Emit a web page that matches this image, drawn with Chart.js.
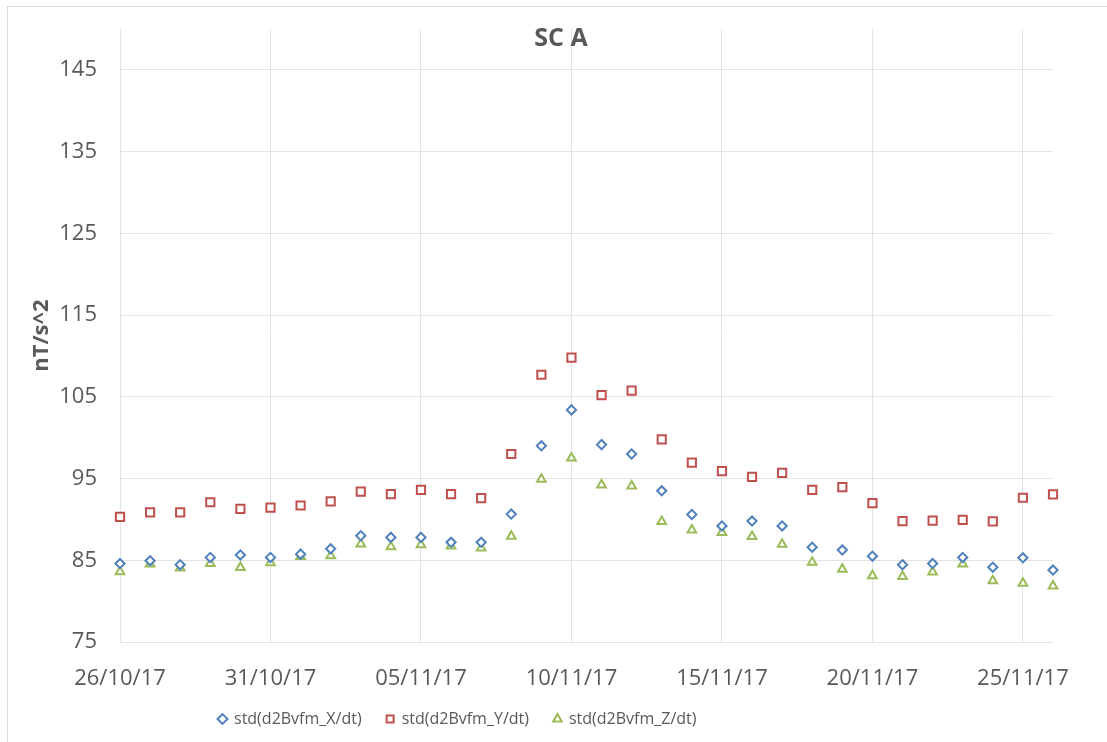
<!DOCTYPE html>
<html>
<head>
<meta charset="utf-8">
<script src="https://cdn.jsdelivr.net/npm/chart.js@4/dist/chart.umd.min.js"></script>
<style>
  html, body { margin: 0; padding: 0; background: #ffffff; }
  #wrap { position: relative; width: 1107px; height: 742px; overflow: hidden; }
  #frame { position: absolute; left: 7px; top: 6px; width: 1200px; height: 800px;
           border-left: 1px solid #d9d9d9; border-top: 1px solid #d9d9d9; }
  canvas { position: absolute; left: 0; top: 0; }
</style>
</head>
<body>
<div id="wrap">
  <div id="frame"></div>
  <canvas id="c" width="1107" height="742"></canvas>
</div>
<script>
const chartTitle = 'SC A';
const yAxisTitle = 'nT/s^2';
const dates = ['26/10/17','27/10/17','28/10/17','29/10/17','30/10/17','31/10/17',
  '01/11/17','02/11/17','03/11/17','04/11/17','05/11/17','06/11/17','07/11/17','08/11/17',
  '09/11/17','10/11/17','11/11/17','12/11/17','13/11/17','14/11/17','15/11/17','16/11/17',
  '17/11/17','18/11/17','19/11/17','20/11/17','21/11/17','22/11/17','23/11/17','24/11/17',
  '25/11/17','26/11/17'];
const xTickLabels = ['26/10/17','31/10/17','05/11/17','10/11/17','15/11/17','20/11/17','25/11/17'];
const yTicks = [75, 85, 95, 105, 115, 125, 135, 145];
const yMin = 75, yMax = 150;
const seriesNames = ['std(d2Bvfm_X/dt)', 'std(d2Bvfm_Y/dt)', 'std(d2Bvfm_Z/dt)'];
const stdX = [84.6, 84.95, 84.45, 85.35, 85.65, 85.35, 85.75, 86.4, 88.0, 87.8,
  87.8, 87.2, 87.2, 90.65, 99.0, 103.4, 99.15, 98.0, 93.5, 90.6,
  89.2, 89.8, 89.2, 86.6, 86.25, 85.5, 84.45, 84.6, 85.35, 84.15, 85.3, 83.8];
const stdY = [90.3, 90.85, 90.85, 92.1, 91.3, 91.45, 91.7, 92.2, 93.4, 93.1,
  93.6, 93.1, 92.6, 98.0, 107.7, 109.8, 105.2, 105.75, 99.8, 96.95,
  95.9, 95.2, 95.7, 93.6, 93.95, 92.0, 89.8, 89.85, 89.95, 89.75, 92.65, 93.05];
const stdZ = [83.6, 84.55, 84.05, 84.6, 84.1, 84.7, 85.45, 85.55, 87.0, 86.65,
  86.9, 86.75, 86.5, 87.95, 94.9, 97.5, 94.2, 94.1, 89.75, 88.7,
  88.4, 87.9, 86.95, 84.75, 83.9, 83.1, 83.0, 83.55, 84.55, 82.5, 82.2, 81.85];

const FONT = "'Open Sans', 'Noto Sans', sans-serif";
const TXT = '#595959';
const GRID = '#e3e3e3';

const titlePlugin = {
  id: 'overlayTitle',
  afterDraw(chart) {
    const ctx = chart.ctx;
    ctx.save();
    ctx.font = "bold 25px " + FONT;
    ctx.fillStyle = TXT;
    ctx.textAlign = 'center';
    ctx.textBaseline = 'middle';
    ctx.fillText(chartTitle, 561, 39);
    ctx.restore();
  }
};
const legendShift = {
  id: 'legendShift',
  afterLayout(chart) {
    const lg = chart.legend;
    if (!lg || !lg.lineWidths) return;
    const pad = lg.options.labels.padding;
    const cur = (lg.left + pad + lg.right - lg.lineWidths[0]) / 2;
    const d = 219 - cur;
    lg.left += d; lg.right += d;
  }
};

new Chart(document.getElementById('c'), {
  type: 'line',
  data: {
    labels: dates,
    datasets: [
      { label: seriesNames[0], data: stdX, showLine: false, pointStyle: 'rectRot',
        pointRadius: 4.6, borderColor: '#4F81BD', backgroundColor: '#ffffff', borderWidth: 2 },
      { label: seriesNames[1], data: stdY, showLine: false, pointStyle: 'rect',
        pointRadius: 5.8, borderColor: '#C0504D', backgroundColor: '#ffffff', borderWidth: 2 },
      { label: seriesNames[2], data: stdZ, showLine: false, pointStyle: 'triangle',
        pointRadius: 5, borderColor: '#9BBB59', backgroundColor: '#ffffff', borderWidth: 2 }
    ]
  },
  options: {
    responsive: false,
    animation: false,
    events: [],
    layout: { padding: { left: 0, right: 54, top: 29, bottom: 5 } },
    plugins: {
      title: { display: false },
      tooltip: { enabled: false },
      legend: {
        position: 'bottom',
        labels: {
          usePointStyle: true, boxWidth: 7, boxHeight: 7, padding: 25,
          color: TXT, font: { family: FONT, size: 16 }
        }
      }
    },
    scales: {
      x: {
        type: 'category',
        offset: false,
        afterFit(s) { s.height = 44; },
        grid: { color: GRID, lineWidth: 1, drawTicks: false },
        border: { display: false },
        ticks: {
          autoSkip: false, maxRotation: 0, minRotation: 0, padding: 24,
          color: TXT, font: { family: FONT, size: 22 },
          callback(v, i) { const l = dates[i]; return xTickLabels.includes(l) ? l : null; }
        }
      },
      y: {
        min: yMin, max: yMax,
        afterBuildTicks(s) { s.ticks = yTicks.map(v => ({ value: v })); },
        afterFit(s) { s.width = 120; s.paddingTop = 0; s.paddingBottom = 0; },
        grid: { color: GRID, lineWidth: 1, drawTicks: false },
        border: { display: false },
        title: { display: true, text: yAxisTitle, color: TXT,
                 font: { family: FONT, size: 22, weight: 'bold' }, padding: { top: 29, bottom: 0 } },
        ticks: { padding: 23, color: TXT, font: { family: FONT, size: 22 } }
      }
    }
  },
  plugins: [titlePlugin, legendShift]
});
</script>
</body>
</html>
